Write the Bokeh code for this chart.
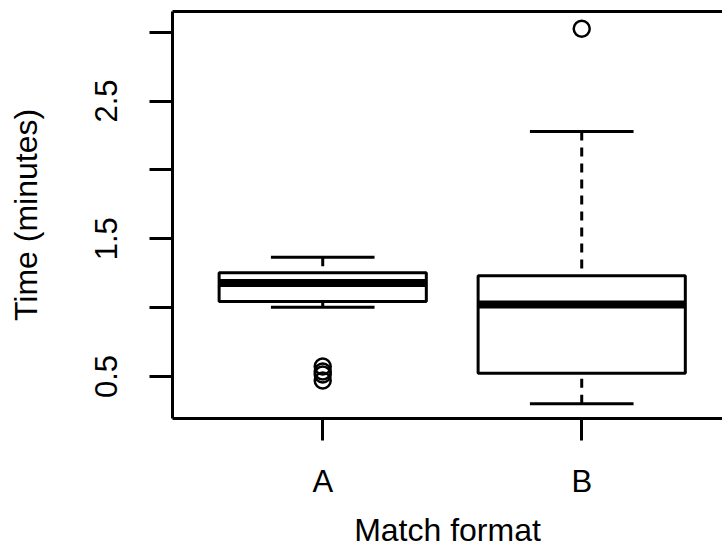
from bokeh.plotting import figure
from bokeh.models import Range1d, FixedTicker, LinearAxis, ColumnDataSource
from bokeh.embed import file_html
from bokeh.resources import INLINE

# Summary statistics of match duration per format
categories = ["A", "B"]
positions = [1, 2]
lower_whisker = [1.003, 0.302]
q1 = [1.045, 0.524]
median = [1.178, 1.023]
q3 = [1.253, 1.231]
upper_whisker = [1.366, 2.279]

# Points beyond the whiskers
outlier_group = [1, 1, 1, 1, 2]
outlier_values = [0.573, 0.536, 0.515, 0.471, 3.025]

# Y axis ticks (labels thinned out like base R does)
y_ticks = [0.5, 1.0, 1.5, 2.0, 2.5, 3.0]
y_tick_labels = ["0.5", "", "1.5", "", "2.5", ""]

FONT = "Liberation Sans"
BOX_W = 0.8
CAP_W = 0.4

src = ColumnDataSource(dict(
    pos=positions,
    left=[p - BOX_W / 2 for p in positions],
    right=[p + BOX_W / 2 for p in positions],
    cap_l=[p - CAP_W / 2 for p in positions],
    cap_r=[p + CAP_W / 2 for p in positions],
    lw=lower_whisker, q1=q1, med=median, q3=q3, uw=upper_whisker,
))

p = figure(
    width=722, height=551,
    x_range=Range1d(0.42, 0.42 + 550 / 259),
    y_range=Range1d(0.195, 3.15),
    output_backend="svg", toolbar_location=None,
    min_border_left=172, min_border_right=0,
    min_border_top=11, min_border_bottom=133,
)
p.outline_line_color = None
p.background_fill_color = "white"
p.border_fill_color = "white"
p.xgrid.visible = False
p.ygrid.visible = False

# whiskers (dashed, drawn from the whisker end toward the box)
p.segment(x0="pos", x1="pos", y0="uw", y1="q3", source=src,
          line_color="black", line_width=3, line_dash="9 7")
p.segment(x0="pos", x1="pos", y0="lw", y1="q1", source=src,
          line_color="black", line_width=3, line_dash="9 7")
# whisker caps
p.segment(x0="cap_l", x1="cap_r", y0="uw", y1="uw", source=src,
          line_color="black", line_width=3)
p.segment(x0="cap_l", x1="cap_r", y0="lw", y1="lw", source=src,
          line_color="black", line_width=3)
# boxes
p.quad(left="left", right="right", bottom="q1", top="q3", source=src,
       fill_color=None, line_color="black", line_width=3)
# medians
p.segment(x0="left", x1="right", y0="med", y1="med", source=src,
          line_color="black", line_width=8, line_cap="butt")
# outliers
p.scatter(x=outlier_group, y=outlier_values, marker="circle", size=16,
          fill_color=None, line_color="black", line_width=2.5)

# axes
for ax in (p.xaxis[0], p.yaxis[0]):
    ax.axis_line_width = 3
    ax.axis_line_color = "black"
    ax.major_tick_line_width = 3
    ax.major_tick_line_color = "black"
    ax.major_tick_in = 0
    ax.minor_tick_line_color = None
    ax.major_label_text_font = FONT
    ax.major_label_text_font_size = "31px"
    ax.major_label_text_color = "black"
    ax.axis_label_text_font = FONT
    ax.axis_label_text_font_size = "32px"
    ax.axis_label_text_font_style = "normal"
    ax.axis_label_text_color = "black"

p.xaxis.ticker = FixedTicker(ticks=positions)
p.xaxis.major_label_overrides = {pos: lab for pos, lab in zip(positions, categories)}
p.xaxis.major_tick_out = 22
p.xaxis.major_label_standoff = 23
p.xaxis.axis_label = "Match format"
p.xaxis.axis_label_standoff = 10

p.yaxis.ticker = FixedTicker(ticks=y_ticks)
p.yaxis.major_label_overrides = {t: lab for t, lab in zip(y_ticks, y_tick_labels)}
p.yaxis.major_tick_out = 23
p.yaxis.major_label_orientation = "vertical"
p.yaxis.major_label_standoff = 32
p.yaxis.axis_label = "Time (minutes)"
p.yaxis.axis_label_standoff = 49

# top border of the plotting region
top = LinearAxis(ticker=FixedTicker(ticks=[]), major_label_text_font_size="0px",
                 axis_line_width=3, axis_line_color="black",
                 major_tick_line_color=None, minor_tick_line_color=None)
p.add_layout(top, "above")

open("out.html", "w").write(file_html(p, INLINE))
